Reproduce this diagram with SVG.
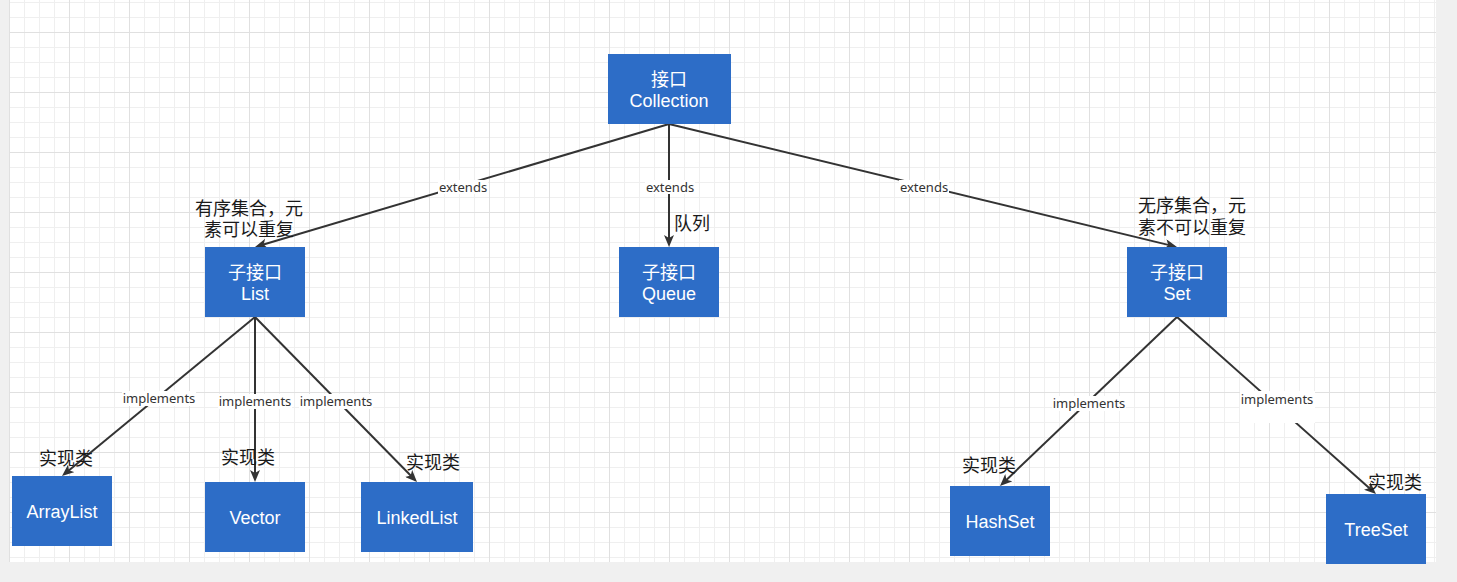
<svg xmlns="http://www.w3.org/2000/svg" width="1457" height="582" viewBox="0 0 1457 582">
<style>
.node rect{fill:#2d6dc7;}
.nt{fill:#fff;font-family:"Liberation Sans","Noto Sans CJK SC",sans-serif;font-size:18px;text-anchor:middle;dominant-baseline:central;}
.edge{stroke:#333;stroke-width:2;fill:none;marker-end:url(#arr);}
.lbg{fill:#fff;}
.lt{fill:#333;font-family:"Noto Sans","Noto Sans CJK SC",sans-serif;font-size:13px;text-anchor:middle;dominant-baseline:central;}
.note{fill:#1a1a1a;font-family:"Liberation Sans","Noto Sans CJK SC",sans-serif;font-size:18px;text-anchor:middle;dominant-baseline:central;}
</style>
<defs>
<pattern id="grid" x="9" y="32" width="60" height="60" patternUnits="userSpaceOnUse">
<path d="M15.5,0V60M30.5,0V60M45.5,0V60M0,15.5H60M0,30.5H60M0,45.5H60" stroke="#efefef" stroke-width="1"/>
<path d="M0.5,0V60M0,0.5H60" stroke="#e0e0e0" stroke-width="1"/>
</pattern>
<marker id="arr" markerUnits="userSpaceOnUse" markerWidth="12" markerHeight="10" refX="4" refY="5" orient="auto">
<path d="M0,0 L12,5 L0,10 L3,5 Z" fill="#333"/>
</marker>
</defs>
<rect x="0" y="0" width="1457" height="582" fill="#f0f0f0"/>
<rect x="9" y="0" width="1427" height="562" fill="#fff"/>
<rect x="9" y="0" width="1427" height="562" fill="url(#grid)"/>

<g id="connectors">
<path class="edge" d="M669,124 L262.67,244.72"/>
<path class="edge" d="M669,124 L669,239"/>
<path class="edge" d="M669,124 L1169.22,245.12"/>
<path class="edge" d="M255,317 L68.17,470.91"/>
<path class="edge" d="M255,317 L255,474"/>
<path class="edge" d="M255,317 L411.4,476.29"/>
<path class="edge" d="M1177,317 L1005.79,480.48"/>
<path class="edge" d="M1177,317 L1370.02,488.68"/>
<rect class="lbg" x="438" y="180" width="50" height="14"/>
<text class="lt" x="463" y="187">extends</text>
<rect class="lbg" x="645" y="180" width="50" height="14"/>
<text class="lt" x="670" y="187">extends</text>
<rect class="lbg" x="899" y="180" width="50" height="14"/>
<text class="lt" x="924" y="187">extends</text>
<rect class="lbg" x="122" y="391" width="74" height="15"/>
<text class="lt" x="159" y="398">implements</text>
<rect class="lbg" x="218" y="394" width="74" height="15"/>
<text class="lt" x="255" y="401">implements</text>
<rect class="lbg" x="299" y="394" width="74" height="15"/>
<text class="lt" x="336" y="401">implements</text>
<rect class="lbg" x="1052" y="396" width="74" height="15"/>
<text class="lt" x="1089" y="403">implements</text>
<rect class="lbg" x="1240" y="391" width="75" height="32"/>
<text class="lt" x="1277" y="399">implements</text>
</g>

<g id="notes">
<text class="note" x="249" y="209">有序集合，元<tspan x="249" dy="21">素可以重复</tspan></text>
<text class="note" x="1192" y="206">无序集合，元<tspan x="1192" dy="22">素不可以重复</tspan></text>
<text class="note" x="692" y="224">队列</text>
<text class="note" x="66" y="459">实现类</text>
<text class="note" x="248" y="458">实现类</text>
<text class="note" x="433" y="463">实现类</text>
<text class="note" x="989" y="466">实现类</text>
<text class="note" x="1395" y="483">实现类</text>
</g>

<g id="collection" class="node"><rect x="608" y="54" width="123" height="70"/><text class="nt" x="669" y="80">接口<tspan x="669" dy="21">Collection</tspan></text></g>
<g id="list" class="node"><rect x="205" y="247" width="100" height="70"/><text class="nt" x="255" y="273">子接口<tspan x="255" dy="21">List</tspan></text></g>
<g id="queue" class="node"><rect x="619" y="247" width="100" height="70"/><text class="nt" x="669" y="273">子接口<tspan x="669" dy="21">Queue</tspan></text></g>
<g id="set" class="node"><rect x="1127" y="247" width="100" height="70"/><text class="nt" x="1177" y="273">子接口<tspan x="1177" dy="21">Set</tspan></text></g>
<g id="arraylist" class="node"><rect x="12" y="476" width="100" height="70"/><text class="nt" x="62" y="512">ArrayList</text></g>
<g id="vector" class="node"><rect x="205" y="482" width="100" height="70"/><text class="nt" x="255" y="518">Vector</text></g>
<g id="linkedlist" class="node"><rect x="361" y="482" width="112" height="70"/><text class="nt" x="417" y="518">LinkedList</text></g>
<g id="hashset" class="node"><rect x="950" y="486" width="100" height="70"/><text class="nt" x="1000" y="522">HashSet</text></g>
<g id="treeset" class="node"><rect x="1326" y="494" width="100" height="70"/><text class="nt" x="1376" y="530">TreeSet</text></g>
</svg>
